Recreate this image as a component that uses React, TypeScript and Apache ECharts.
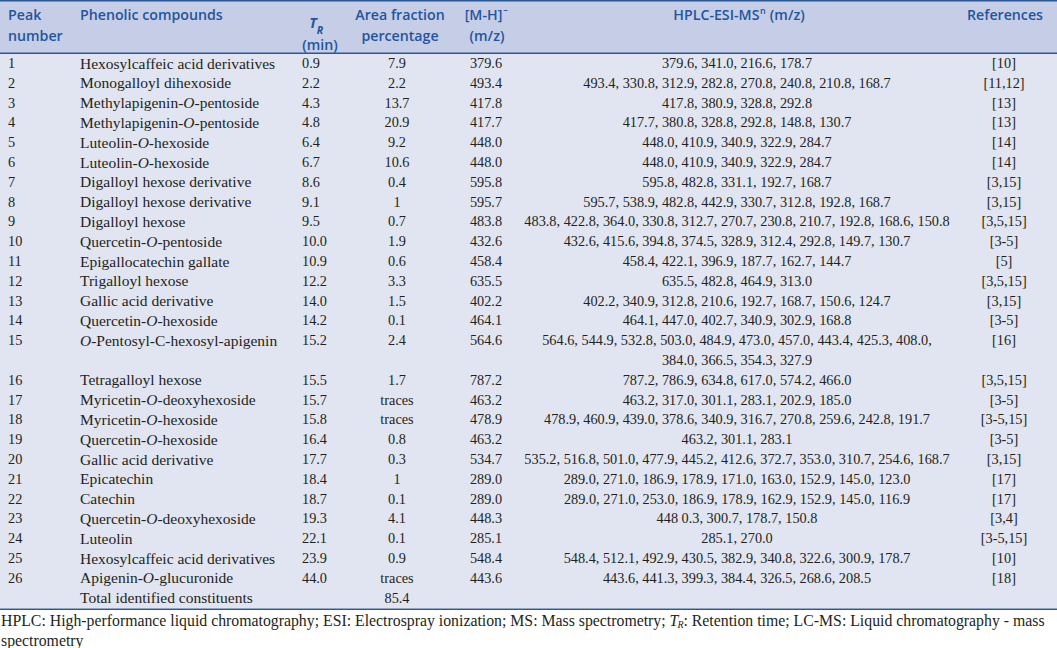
import React, { useEffect, useRef } from "react";
import * as echarts from "echarts";

const peakNumbers = ["1","2","3","4","5","6","7","8","9","10","11","12","13","14","15","16","17","18","19","20","21","22","23","24","25","26"];
const compounds = [
  "Hexosylcaffeic acid derivatives","Monogalloyl dihexoside","Methylapigenin-O-pentoside","Methylapigenin-O-pentoside",
  "Luteolin-O-hexoside","Luteolin-O-hexoside","Digalloyl hexose derivative","Digalloyl hexose derivative","Digalloyl hexose",
  "Quercetin-O-pentoside","Epigallocatechin gallate","Trigalloyl hexose","Gallic acid derivative","Quercetin-O-hexoside",
  "O-Pentosyl-C-hexosyl-apigenin","Tetragalloyl hexose","Myricetin-O-deoxyhexoside","Myricetin-O-hexoside","Quercetin-O-hexoside",
  "Gallic acid derivative","Epicatechin","Catechin","Quercetin-O-deoxyhexoside","Luteolin","Hexosylcaffeic acid derivatives",
  "Apigenin-O-glucuronide"
];
const retentionTimes = ["0.9","2.2","4.3","4.8","6.4","6.7","8.6","9.1","9.5","10.0","10.9","12.2","14.0","14.2","15.2","15.5","15.7","15.8","16.4","17.7","18.4","18.7","19.3","22.1","23.9","44.0"];
const areaFractions = ["7.9","2.2","13.7","20.9","9.2","10.6","0.4","1","0.7","1.9","0.6","3.3","1.5","0.1","2.4","1.7","traces","traces","0.8","0.3","1","0.1","4.1","0.1","0.9","traces"];
const mhIons = ["379.6","493.4","417.8","417.7","448.0","448.0","595.8","595.7","483.8","432.6","458.4","635.5","402.2","464.1","564.6","787.2","463.2","478.9","463.2","534.7","289.0","289.0","448.3","285.1","548.4","443.6"];
const msFragments: string[][] = [
  ["379.6, 341.0, 216.6, 178.7"],
  ["493.4, 330.8, 312.9, 282.8, 270.8, 240.8, 210.8, 168.7"],
  ["417.8, 380.9, 328.8, 292.8"],
  ["417.7, 380.8, 328.8, 292.8, 148.8, 130.7"],
  ["448.0, 410.9, 340.9, 322.9, 284.7"],
  ["448.0, 410.9, 340.9, 322.9, 284.7"],
  ["595.8, 482.8, 331.1, 192.7, 168.7"],
  ["595.7, 538.9, 482.8, 442.9, 330.7, 312.8, 192.8, 168.7"],
  ["483.8, 422.8, 364.0, 330.8, 312.7, 270.7, 230.8, 210.7, 192.8, 168.6, 150.8"],
  ["432.6, 415.6, 394.8, 374.5, 328.9, 312.4, 292.8, 149.7, 130.7"],
  ["458.4, 422.1, 396.9, 187.7, 162.7, 144.7"],
  ["635.5, 482.8, 464.9, 313.0"],
  ["402.2, 340.9, 312.8, 210.6, 192.7, 168.7, 150.6, 124.7"],
  ["464.1, 447.0, 402.7, 340.9, 302.9, 168.8"],
  ["564.6, 544.9, 532.8, 503.0, 484.9, 473.0, 457.0, 443.4, 425.3, 408.0,", "384.0, 366.5, 354.3, 327.9"],
  ["787.2, 786.9, 634.8, 617.0, 574.2, 466.0"],
  ["463.2, 317.0, 301.1, 283.1, 202.9, 185.0"],
  ["478.9, 460.9, 439.0, 378.6, 340.9, 316.7, 270.8, 259.6, 242.8, 191.7"],
  ["463.2, 301.1, 283.1"],
  ["535.2, 516.8, 501.0, 477.9, 445.2, 412.6, 372.7, 353.0, 310.7, 254.6, 168.7"],
  ["289.0, 271.0, 186.9, 178.9, 171.0, 163.0, 152.9, 145.0, 123.0"],
  ["289.0, 271.0, 253.0, 186.9, 178.9, 162.9, 152.9, 145.0, 116.9"],
  ["448 0.3, 300.7, 178.7, 150.8"],
  ["285.1, 270.0"],
  ["548.4, 512.1, 492.9, 430.5, 382.9, 340.8, 322.6, 300.9, 178.7"],
  ["443.6, 441.3, 399.3, 384.4, 326.5, 268.6, 208.5"]
];
const references = ["[10]","[11,12]","[13]","[13]","[14]","[14]","[3,15]","[3,15]","[3,5,15]","[3-5]","[5]","[3,5,15]","[3,15]","[3-5]","[16]","[3,5,15]","[3-5]","[3-5,15]","[3-5]","[3,15]","[17]","[17]","[3,4]","[3-5,15]","[10]","[18]"];
const totalLabel = "Total identified constituents";
const totalArea = "85.4";
const footerLine1a = "HPLC: High-performance liquid chromatography; ESI: Electrospray ionization; MS: Mass spectrometry; ";
const footerLine1b = ": Retention time; LC-MS: Liquid chromatography - mass";
const footerLine2 = "spectrometry";

const HEADER_H = 53;
const ROW_H = 19.8;
const FIRST_ROW_Y = 63;
const SERIF = '"Liberation Serif", "Times New Roman", serif';
const SANS = '"Open Sans", "Noto Sans", sans-serif';
const NAME_SIZE = 15.5;
const NUM_SIZE = 14.3;
const FOOT_SIZE = 15.8;
const HEAD_SIZE = 14.2;
const HEAD_COLOR = "#1f55a0";
const TEXT_COLOR = "#231f20";
const LINE_COLOR = "#2c5896";
const HEAD_BG = "#c6cde6";
const BODY_BG = "#e1e5f1";

const COL = { peak: 8, name: 80, tr: 302, area: 397, mh: 486, ms: 737, ref: 1004 };

let measureCtx: CanvasRenderingContext2D | null = null;
function measure(text: string, font: string): number {
  if (!measureCtx) measureCtx = document.createElement("canvas").getContext("2d");
  measureCtx!.font = font;
  return measureCtx!.measureText(text).width;
}

function txt(text: string, x: number, y: number, opts: any = {}) {
  const align = opts.align || "left";
  return {
    type: "text",
    x,
    y,
    silent: true,
    style: {
      text,
      fill: opts.fill || TEXT_COLOR,
      fontFamily: opts.family || SERIF,
      fontSize: opts.size || NUM_SIZE,
      fontWeight: opts.weight || "normal",
      fontStyle: opts.style || "normal",
      align,
      textAlign: align,
      verticalAlign: "middle",
      textVerticalAlign: "middle",
      rich: opts.rich,
    },
  };
}

function richName(name: string) {
  return name.replace(/(^|-)O(?=-)/g, "$1{i|O}");
}

function buildElements() {
  const els: any[] = [];
  const rowsLines = msFragments.reduce((s, r) => s + r.length, 0) + 1;
  const bodyBottom = HEADER_H + ROW_H * rowsLines + 1;
  els.push({ type: "rect", shape: { x: 0, y: 0, width: 1057, height: HEADER_H }, style: { fill: HEAD_BG }, silent: true });
  els.push({ type: "rect", shape: { x: 0, y: HEADER_H, width: 1057, height: bodyBottom - HEADER_H }, style: { fill: BODY_BG }, silent: true });
  els.push({ type: "rect", shape: { x: 0, y: 0, width: 1057, height: 1.5 }, style: { fill: LINE_COLOR }, silent: true });
  els.push({ type: "rect", shape: { x: 0, y: HEADER_H - 0.5, width: 1057, height: 1.5 }, style: { fill: LINE_COLOR }, silent: true });
  els.push({ type: "rect", shape: { x: 0, y: bodyBottom, width: 1057, height: 1.5 }, style: { fill: LINE_COLOR }, silent: true });

  const h = { fill: HEAD_COLOR, family: SANS, size: HEAD_SIZE, weight: 600 };
  const L1 = 14, L2 = 35;
  els.push(txt("Peak", COL.peak, L1, h));
  els.push(txt("number", COL.peak, L2, h));
  els.push(txt("Phenolic compounds", COL.name, L1, h));
  els.push(txt("T", 313, 22, { ...h, weight: "bold", style: "italic", align: "center" }));
  els.push(txt("R", 320, 30, { ...h, size: 10.5, weight: "bold", style: "italic", align: "center" }));
  els.push(txt("(min)", 320, 44.5, { ...h, align: "center" }));
  els.push(txt("Area fraction", 400, L1, { ...h, align: "center" }));
  els.push(txt("percentage", 400, L2, { ...h, align: "center" }));
  const mhHead = "[M-H]";
  const mhW = measure(mhHead, `600 ${HEAD_SIZE}px ${SANS}`);
  const mhX = 487 - (mhW + 7) / 2;
  els.push(txt(mhHead, mhX, L1, h));
  els.push(txt("\u2013", mhX + mhW + 1, L1 - 5, { ...h, size: 9 }));
  els.push(txt("(m/z)", 487, L2, { ...h, align: "center" }));
  const msA = "HPLC-ESI-MS", msB = "n", msC = " (m/z)";
  const wA = measure(msA, `600 ${HEAD_SIZE}px ${SANS}`);
  const wB = measure(msB, `600 9px ${SANS}`);
  const wC = measure(msC, `600 ${HEAD_SIZE}px ${SANS}`);
  const msX = 739 - (wA + wB + wC + 1) / 2;
  els.push(txt(msA, msX, L1, h));
  els.push(txt(msB, msX + wA + 0.5, L1 - 4, { ...h, size: 9 }));
  els.push(txt(msC, msX + wA + wB + 1, L1, h));
  els.push(txt("References", 1005, L1, { ...h, align: "center" }));

  const rich = { i: { fontStyle: "italic", fontFamily: SERIF, fontSize: NAME_SIZE, fill: TEXT_COLOR, color: TEXT_COLOR } };
  let line = 0;
  for (let i = 0; i < peakNumbers.length; i++) {
    const y = FIRST_ROW_Y + ROW_H * line;
    els.push(txt(peakNumbers[i], COL.peak, y));
    els.push(txt(richName(compounds[i]), COL.name, y, { rich, size: NAME_SIZE }));
    els.push(txt(retentionTimes[i], COL.tr, y));
    els.push(txt(areaFractions[i], COL.area, y, { align: "center" }));
    els.push(txt(mhIons[i], COL.mh, y, { align: "center" }));
    msFragments[i].forEach((m, k) => {
      els.push(txt(m, COL.ms, y + ROW_H * k, { align: "center" }));
    });
    els.push(txt(references[i], COL.ref, y, { align: "center" }));
    line += msFragments[i].length;
  }
  const yT = FIRST_ROW_Y + ROW_H * line;
  els.push(txt(totalLabel, COL.name, yT, { size: NAME_SIZE }));
  els.push(txt(totalArea, COL.area, yT, { align: "center" }));

  const fy1 = bodyBottom + 12, fy2 = bodyBottom + 32;
  const fx = 1;
  const fa = measure(footerLine1a, `${FOOT_SIZE}px ${SERIF}`);
  const ft = measure("T", `italic ${FOOT_SIZE}px ${SERIF}`);
  const fr = measure("R", `italic 10px ${SERIF}`);
  const fo = { size: FOOT_SIZE };
  els.push(txt(footerLine1a, fx, fy1, fo));
  els.push(txt("T", fx + fa, fy1, { ...fo, style: "italic" }));
  els.push(txt("R", fx + fa + ft - 1, fy1 + 4, { style: "italic", size: 10 }));
  els.push(txt(footerLine1b, fx + fa + ft + fr - 1, fy1, fo));
  els.push(txt(footerLine2, fx, fy2, fo));
  return els;
}

export default function App() {
  const ref = useRef<HTMLDivElement>(null);
  useEffect(() => {
    if (!ref.current) return;
    const chart = echarts.init(ref.current, undefined, { renderer: "svg" });
    chart.setOption({
      animation: false,
      backgroundColor: "#ffffff",
      graphic: { elements: buildElements() },
    });
    return () => chart.dispose();
  }, []);
  return (
    <div
      ref={ref}
      style={{ position: "absolute", left: 0, top: 0, width: 1057, height: 648 }}
    />
  );
}
